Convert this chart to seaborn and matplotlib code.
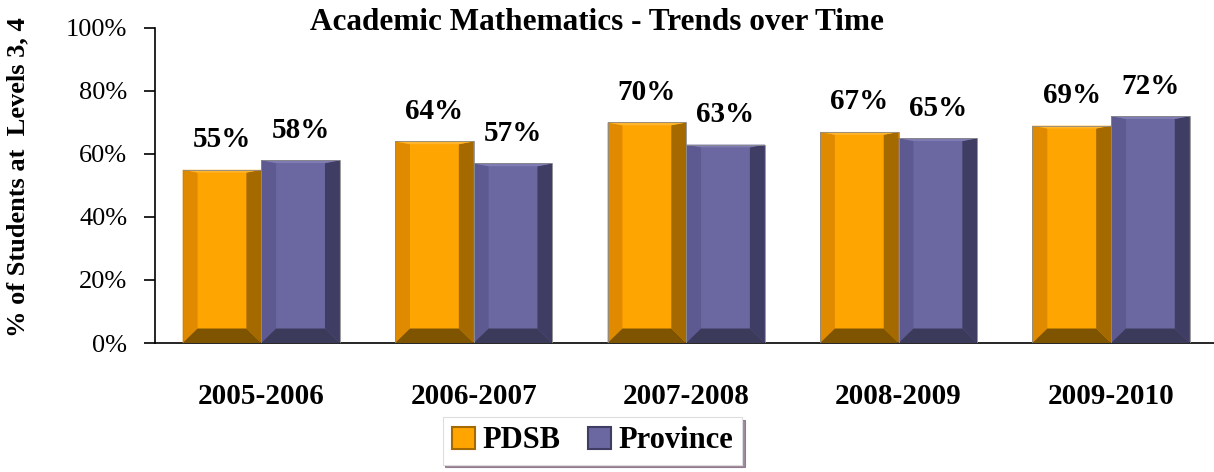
import numpy as np
import pandas as pd
import seaborn as sns
from matplotlib import pyplot as plt
from matplotlib.patches import Polygon, Rectangle

years = ['2005-2006', '2006-2007', '2007-2008', '2008-2009', '2009-2010']
pdsb = [55, 64, 70, 67, 69]
province = [58, 57, 63, 65, 72]
series = ['PDSB', 'Province']

# face colours: centre, left, right, bottom, top
shades = {
    'PDSB': ('#ffa502', '#e08a00', '#a46a00', '#7e5400', '#ffb52e'),
    'Province': ('#6b68a1', '#5d5a92', '#3f3d63', '#3b3a5b', '#7f7cb3'),
}


def bevel(ax, patch, cols, bx=0.07, by=4.6, bt=0.9):
    x0, y0 = patch.get_x(), patch.get_y()
    w, h = patch.get_width(), patch.get_height()
    x1, y1 = x0 + w, y0 + h
    c, l, r, b, t = cols
    faces = [
        ([(x0, y0), (x0 + bx, y0 + by), (x0 + bx, y1 - bt), (x0, y1)], l),
        ([(x1, y0), (x1 - bx, y0 + by), (x1 - bx, y1 - bt), (x1, y1)], r),
        ([(x0, y0), (x1, y0), (x1 - bx, y0 + by), (x0 + bx, y0 + by)], b),
        ([(x0, y1), (x1, y1), (x1 - bx, y1 - bt), (x0 + bx, y1 - bt)], t),
    ]
    for pts, col in faces:
        ax.add_patch(Polygon(pts, closed=True, facecolor=col, edgecolor='none', zorder=3))
    ax.add_patch(Rectangle((x0, y0), w, h, fill=False, edgecolor='#8a8a8a', lw=0.6, zorder=4))


def main():
    sns.set_style('white')
    plt.rcParams['font.family'] = ['Liberation Serif', 'DejaVu Serif']
    plt.rcParams['text.color'] = 'black'
    plt.rcParams['xtick.color'] = 'black'
    plt.rcParams['ytick.color'] = 'black'
    plt.rcParams['axes.labelcolor'] = 'black'

    df = pd.DataFrame({'year': years * 2,
                       'value': pdsb + province,
                       'series': ['PDSB'] * len(years) + ['Province'] * len(years)})

    fig = plt.figure(figsize=(12.14, 4.72), dpi=100)
    ax = fig.add_axes([0.1277, 0.2733, 0.875, 0.6674])
    sns.barplot(data=df, x='year', y='value', hue='series', order=years, hue_order=series,
                palette=[shades[s][0] for s in series], width=0.74, gap=0, saturation=1,
                edgecolor='none', ax=ax, legend=False, zorder=2)

    for container, s in zip(ax.containers, series):
        for patch in container:
            bevel(ax, patch, shades[s])
        ax.bar_label(container, labels=[f'{v:.0f}%' for v in container.datavalues],
                     padding=12, fontsize=21, fontweight='bold', color='black')

    ax.set_ylim(0, 100)
    ax.set_xlim(-0.5, len(years) - 0.5)
    ax.set_yticks(range(0, 101, 20))
    ax.set_yticklabels([f'{v}%' for v in range(0, 101, 20)], fontsize=19)
    ax.set_xticks(range(len(years)))
    ax.set_xticklabels(years, fontsize=21, fontweight='bold')
    ax.set_xticks(np.arange(-0.5, len(years), 1), minor=True)
    ax.tick_params(axis='x', which='major', length=0, pad=29)
    ax.tick_params(axis='x', which='minor', length=8, width=1.2, direction='out', color='black')
    ax.tick_params(axis='y', length=8, width=1.2, direction='out', color='black', pad=12, left=True)
    ax.set_xlabel('')
    ax.set_ylabel('% of Students at  Levels 3, 4', fontsize=19, fontweight='bold')
    ax.yaxis.set_label_coords(-0.118, 0.528)
    for side in ['top', 'right']:
        ax.spines[side].set_visible(False)
    for side in ['left', 'bottom']:
        ax.spines[side].set_color('black')
        ax.spines[side].set_linewidth(1.2)

    fig.text(0.492, 0.952, 'Academic Mathematics - Trends over Time', ha='center', va='center',
             fontsize=22.5, fontweight='bold')

    # legend box with shadow
    handles = [Rectangle((0, 0), 1, 1, facecolor=shades[s][0], edgecolor=shades[s][2], lw=1.5)
               for s in series]
    leg = fig.legend(handles, series, loc='center', bbox_to_anchor=(0.488, 0.066), ncol=2,
                     frameon=True, fancybox=False, shadow={'color': '#7a5a75', 'alpha': 0.7},
                     prop={'size': 22, 'weight': 'bold'}, handlelength=0.75, handleheight=0.75,
                     handletextpad=0.25, columnspacing=0.9, borderpad=0.3)
    leg.get_frame().set_edgecolor('#dddddd')
    leg.get_frame().set_linewidth(0.8)

    fig.savefig('out.png', dpi=100)


if __name__ == '__main__':
    main()
